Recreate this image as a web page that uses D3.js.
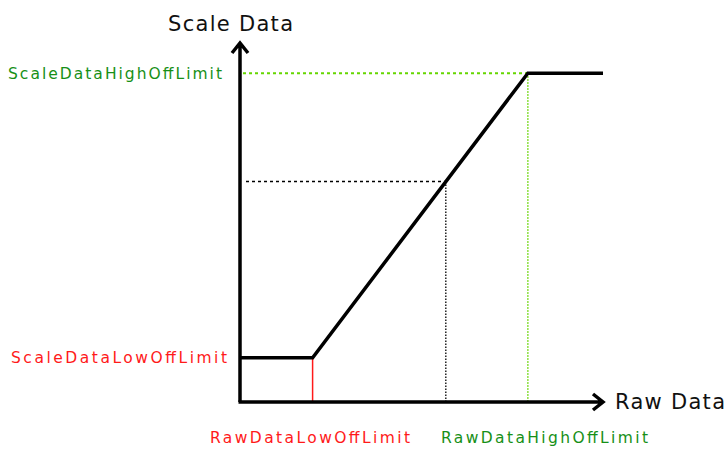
<!DOCTYPE html>
<html>
<head>
<meta charset="utf-8">
<script src="https://cdn.jsdelivr.net/npm/d3@7"></script>
<style>
  body { margin: 0; background: #fff; }
  text { font-family: "DejaVu Sans", sans-serif; }
</style>
</head>
<body>
<div id="chart-area"></div>
<script>
// Limits (in percent of each axis)
let rawLimits = [20, 79.3];        // RawDataLowOffLimit, RawDataHighOffLimit
let scaleLimits = [12.3, 91.6];    // ScaleDataLowOffLimit, ScaleDataHighOffLimit
let sample = [56.7, 61.4];         // example raw -> scale point
let curveRaw = [0, 20, 79.3, 100];
let curveScale = [12.3, 12.3, 91.6, 91.6];
let labels = ["ScaleDataHighOffLimit", "ScaleDataLowOffLimit", "RawDataLowOffLimit", "RawDataHighOffLimit"];

let width = 728, height = 450;

let svg = d3.select("#chart-area").append("svg")
    .attr("width", width)
    .attr("height", height);

// Scales
let x = d3.scaleLinear().domain([0, 100]).range([240, 603]);
let y = d3.scaleLinear().domain([0, 100]).range([402, 43]);

let green = "#179017", lime = "#66d600", red = "#ff1a1a";

// guide lines
svg.append("line")
    .attr("x1", x(0) + 3).attr("x2", x(rawLimits[1]))
    .attr("y1", y(scaleLimits[1])).attr("y2", y(scaleLimits[1]))
    .attr("stroke", lime).attr("stroke-width", 2).attr("stroke-dasharray", "3,3");
svg.append("line")
    .attr("x1", x(rawLimits[1])).attr("x2", x(rawLimits[1]))
    .attr("y1", y(scaleLimits[1])).attr("y2", y(0))
    .attr("stroke", lime).attr("stroke-width", 1.5).attr("stroke-dasharray", "1.5,1.5");
svg.append("line")
    .attr("x1", x(rawLimits[0])).attr("x2", x(rawLimits[0]))
    .attr("y1", y(scaleLimits[0])).attr("y2", y(0))
    .attr("stroke", red).attr("stroke-width", 1.5);
svg.append("line")
    .attr("x1", x(0) + 6).attr("x2", x(sample[0]))
    .attr("y1", y(sample[1])).attr("y2", y(sample[1]))
    .attr("stroke", "#000").attr("stroke-width", 1.5).attr("stroke-dasharray", "3,3");
svg.append("line")
    .attr("x1", x(sample[0])).attr("x2", x(sample[0]))
    .attr("y1", y(sample[1])).attr("y2", y(0))
    .attr("stroke", "#000").attr("stroke-width", 1.3).attr("stroke-dasharray", "1.5,1.5");

// transfer curve
let line = d3.line().x(d => x(d[0])).y(d => y(d[1]));
svg.append("path")
    .datum(curveRaw.map((r, i) => [r, curveScale[i]]))
    .attr("d", line)
    .attr("fill", "none")
    .attr("stroke", "#000")
    .attr("stroke-width", 3.5);

// axes with arrows
svg.append("path")
    .attr("d", `M${x(0)},${y(0)}V${y(100)}M${x(0) - 8},${y(100) + 10}L${x(0)},${y(100)}L${x(0) + 8},${y(100) + 10}`)
    .attr("fill", "none").attr("stroke", "#000").attr("stroke-width", 3.5);
svg.append("path")
    .attr("d", `M${x(0) - 1.5},${y(0)}H${x(100)}M${x(100) - 10},${y(0) - 8}L${x(100)},${y(0)}L${x(100) - 10},${y(0) + 8}`)
    .attr("fill", "none").attr("stroke", "#000").attr("stroke-width", 3.5);

// axis titles
svg.append("text").attr("x", 168).attr("y", 31)
    .attr("font-size", 21).attr("textLength", 125).attr("fill", "#111")
    .text("Scale Data");
svg.append("text").attr("x", 615).attr("y", 409)
    .attr("font-size", 21).attr("textLength", 110).attr("fill", "#111")
    .text("Raw Data");

// limit labels
function label(t, x0, yc, len, color) {
    svg.append("text").attr("x", x0).attr("y", yc)
        .attr("dy", "0.35em")
        .attr("font-size", 15.5).attr("textLength", len).attr("lengthAdjust", "spacing")
        .attr("fill", color).text(t);
}
label(labels[0], 8, y(scaleLimits[1]), 214, green);
label(labels[1], 11, y(scaleLimits[0]), 216, red);
label(labels[2], 210, 438, 200, red);
label(labels[3], 441, 438, 207, green);
</script>
</body>
</html>
